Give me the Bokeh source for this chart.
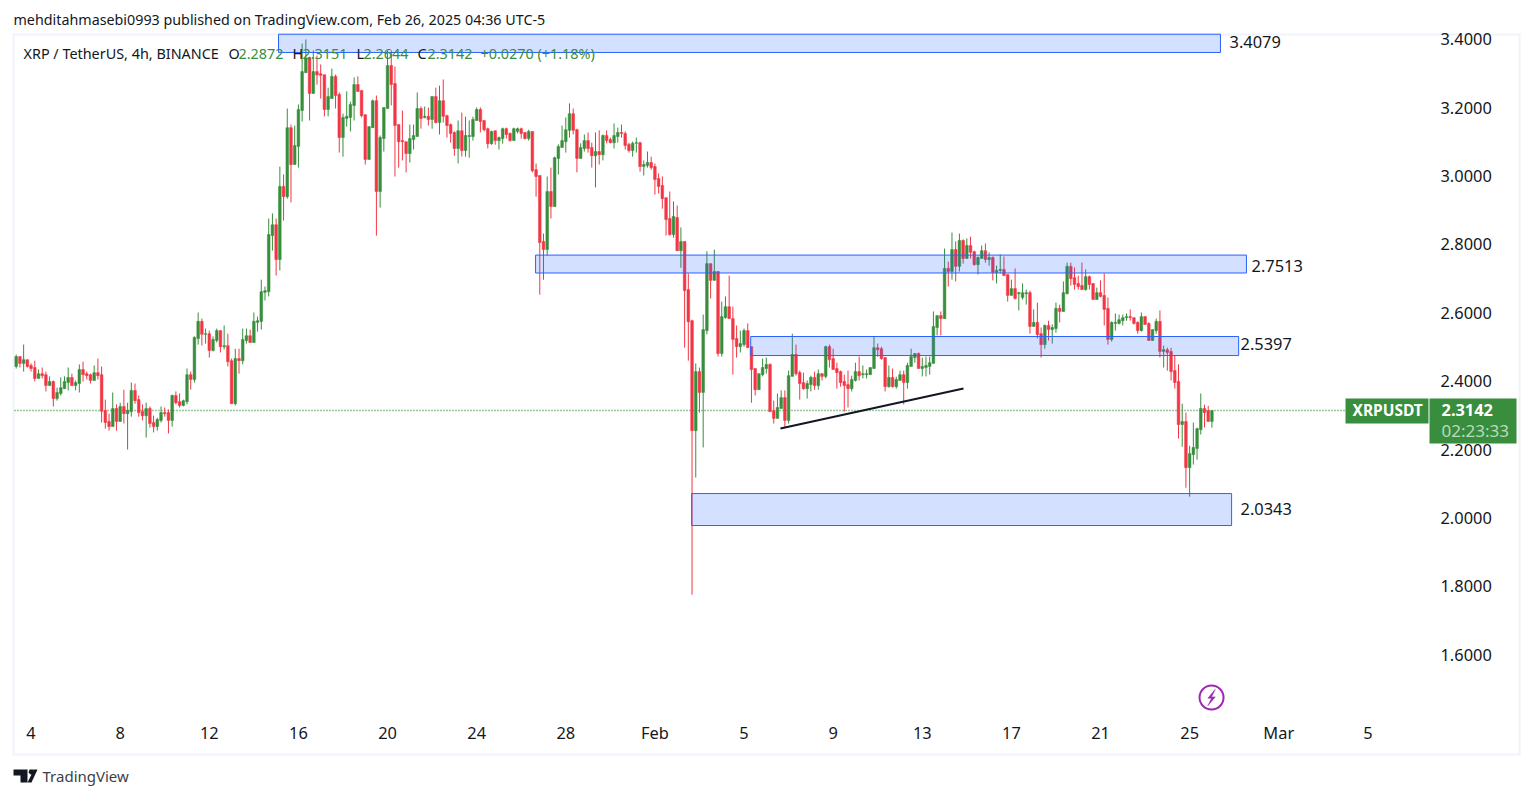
from bokeh.plotting import figure
from bokeh.embed import file_html
from bokeh.resources import INLINE
from bokeh.models import (ColumnDataSource, FixedTicker, NumeralTickFormatter, Label,
                          BoxAnnotation, PolyAnnotation, LinearAxis)

TICK_POS = [4, 28, 52, 76, 100, 124, 148, 172, 196, 220, 244, 268, 292, 316, 340, 364]
TICK_LABELS = ["4", "8", "12", "16", "20", "24", "28", "Feb", "5", "9", "13", "17", "21", "25", "Mar", "5"]
PRICE_TICKS = [1.6, 1.8, 2.0, 2.2, 2.4, 2.6, 2.8, 3.0, 3.2, 3.4]

DIRECTION = ("GRGRRRGRRG" "RGGGGRGGRR" "RGRRRRGRGR" "GGRRRGRRGG" "RRGRRGGRGG" "RGRGGRGRRG" "RGGRGGGGGG"
             "RGRGRGGGGR" "GRRRGGRRGG" "GGRRRGGRGG" "GRRRRRGGGR" "GRGRGRRRRG" "RGGGGRRRGR" "GGRRGGRRGR"
             "RRRGRGGGGG" "RRGGRRGRGR" "RGGRRRGGRG" "GRRRRRRGRG" "RRRGRGGRGR" "GGRRRGGRRR" "GGGRRGGRGG"
             "RRRGGRGRGR" "RRRRRGGRGG" "GGRRRGRGGR" "GGGRGGGGGR" "GRGRGRGRRG" "GRGRGGRRGR" "GGGRGRRGRG"
             "GRGGRRRRGR" "RGRRRGGGGG" "RRRGRRGGRG" "RRRRGRGGGG" "RRG")

highs = [
 2.478,2.472,2.507,2.463,2.452,2.460,2.434,2.440,2.428,2.414,
 2.402,2.381,2.411,2.414,2.440,2.422,2.402,2.449,2.457,2.428,
 2.422,2.446,2.466,2.443,2.346,2.305,2.367,2.332,2.337,2.375,
 2.337,2.396,2.393,2.358,2.332,2.337,2.326,2.299,2.293,2.326,
 2.323,2.317,2.361,2.370,2.364,2.346,2.437,2.428,2.531,2.601,
 2.583,2.554,2.548,2.531,2.554,2.548,2.563,2.539,2.466,2.495,
 2.495,2.554,2.554,2.551,2.601,2.589,2.697,2.677,2.876,2.891,
 2.876,3.028,3.005,3.198,3.151,3.148,3.210,3.388,3.400,3.350,
 3.368,3.353,3.327,3.297,3.259,3.315,3.297,3.245,3.183,3.248,
 3.218,3.289,3.292,3.251,3.180,3.145,3.224,3.236,3.119,3.201,
 3.368,3.368,3.321,3.151,3.192,3.101,3.151,3.151,3.245,3.204,
 3.204,3.201,3.233,3.259,3.265,3.283,3.180,3.154,3.131,3.163,
 3.186,3.174,3.163,3.174,3.201,3.201,3.163,3.142,3.133,3.133,
 3.116,3.142,3.142,3.128,3.142,3.142,3.142,3.128,3.136,3.131,
 3.037,3.002,2.832,2.999,3.025,3.057,3.093,3.148,3.172,3.213,
 3.198,3.139,3.096,3.122,3.128,3.098,3.128,3.134,3.122,3.134,
 3.113,3.154,3.142,3.151,3.131,3.098,3.101,3.113,3.101,3.046,
 3.072,3.057,3.037,3.008,2.999,2.937,2.955,2.926,2.914,2.850,
 2.809,2.715,2.580,2.452,2.440,2.595,2.780,2.744,2.785,2.721,
 2.633,2.648,2.709,2.618,2.563,2.548,2.554,2.569,2.501,2.437,
 2.422,2.466,2.469,2.452,2.343,2.364,2.373,2.373,2.431,2.539,
 2.507,2.431,2.425,2.402,2.416,2.428,2.434,2.422,2.504,2.507,
 2.495,2.454,2.431,2.419,2.431,2.416,2.454,2.472,2.446,2.434,
 2.440,2.531,2.510,2.501,2.469,2.446,2.437,2.413,2.431,2.431,
 2.454,2.495,2.481,2.484,2.469,2.472,2.472,2.604,2.592,2.604,
 2.788,2.750,2.835,2.809,2.832,2.815,2.818,2.823,2.782,2.765,
 2.797,2.803,2.777,2.765,2.738,2.771,2.765,2.712,2.697,2.730,
 2.662,2.686,2.668,2.665,2.610,2.630,2.557,2.566,2.577,2.566,
 2.630,2.624,2.692,2.747,2.747,2.733,2.709,2.747,2.727,2.709,
 2.686,2.674,2.695,2.715,2.645,2.575,2.598,2.595,2.595,2.598,
 2.610,2.586,2.575,2.601,2.589,2.572,2.551,2.583,2.607,2.504,
 2.498,2.498,2.475,2.449,2.334,2.308,2.211,2.279,2.264,2.364,
 2.331,2.328,2.314]

body_tops = [
 2.472,2.472,2.463,2.463,2.446,2.440,2.422,2.422,2.419,2.399,
 2.399,2.367,2.381,2.399,2.411,2.411,2.396,2.434,2.434,2.422,
 2.419,2.425,2.425,2.419,2.314,2.282,2.320,2.320,2.326,2.326,
 2.314,2.373,2.373,2.346,2.311,2.320,2.320,2.279,2.288,2.308,
 2.308,2.308,2.358,2.358,2.340,2.343,2.419,2.419,2.528,2.575,
 2.575,2.539,2.539,2.522,2.548,2.548,2.504,2.504,2.460,2.466,
 2.466,2.522,2.533,2.533,2.575,2.577,2.662,2.665,2.829,2.858,
 2.858,2.970,2.970,3.142,3.142,3.090,3.195,3.306,3.343,3.347,
 3.306,3.306,3.300,3.297,3.233,3.292,3.292,3.239,3.172,3.175,
 3.210,3.268,3.268,3.251,3.180,3.145,3.221,3.221,3.113,3.201,
 3.324,3.324,3.271,3.151,3.104,3.101,3.110,3.119,3.198,3.198,
 3.175,3.175,3.233,3.233,3.221,3.221,3.177,3.151,3.128,3.133,
 3.133,3.119,3.119,3.166,3.195,3.195,3.163,3.139,3.131,3.133,
 3.113,3.139,3.139,3.125,3.139,3.139,3.139,3.128,3.131,3.131,
 3.019,3.002,2.809,2.955,2.955,3.054,3.087,3.104,3.136,3.183,
 3.183,3.136,3.084,3.104,3.104,3.084,3.072,3.072,3.119,3.119,
 3.107,3.119,3.128,3.128,3.125,3.093,3.096,3.098,3.098,3.034,
 3.040,3.040,3.028,2.993,2.973,2.937,2.876,2.882,2.879,2.809,
 2.809,2.668,2.577,2.428,2.428,2.551,2.744,2.744,2.721,2.721,
 2.589,2.618,2.618,2.583,2.525,2.510,2.548,2.548,2.501,2.437,
 2.422,2.440,2.449,2.449,2.314,2.323,2.352,2.352,2.416,2.478,
 2.478,2.425,2.396,2.393,2.411,2.411,2.422,2.422,2.501,2.501,
 2.466,2.437,2.428,2.399,2.390,2.405,2.428,2.428,2.422,2.422,
 2.440,2.498,2.498,2.495,2.469,2.411,2.411,2.405,2.419,2.419,
 2.446,2.472,2.481,2.481,2.443,2.446,2.454,2.560,2.592,2.592,
 2.730,2.730,2.785,2.785,2.812,2.812,2.797,2.797,2.779,2.762,
 2.782,2.782,2.762,2.762,2.724,2.727,2.727,2.712,2.671,2.671,
 2.659,2.659,2.659,2.659,2.572,2.572,2.539,2.563,2.563,2.557,
 2.613,2.613,2.659,2.736,2.736,2.703,2.686,2.680,2.706,2.706,
 2.686,2.659,2.659,2.651,2.613,2.572,2.572,2.580,2.586,2.589,
 2.589,2.586,2.572,2.589,2.589,2.569,2.551,2.575,2.575,2.492,
 2.492,2.487,2.431,2.399,2.282,2.282,2.188,2.206,2.261,2.320,
 2.320,2.314,2.314]

body_bottoms = [
 2.443,2.452,2.452,2.443,2.437,2.408,2.408,2.416,2.387,2.387,
 2.349,2.349,2.364,2.378,2.396,2.387,2.387,2.393,2.419,2.416,
 2.402,2.402,2.416,2.312,2.279,2.267,2.267,2.282,2.282,2.305,
 2.305,2.311,2.343,2.308,2.299,2.299,2.276,2.267,2.267,2.285,
 2.305,2.285,2.285,2.337,2.329,2.329,2.340,2.405,2.405,2.525,
 2.537,2.537,2.490,2.490,2.519,2.501,2.501,2.457,2.334,2.334,
 2.460,2.460,2.519,2.513,2.513,2.572,2.575,2.660,2.662,2.826,
 2.756,2.756,2.940,2.940,3.034,3.034,3.087,3.192,3.303,3.242,
 3.242,3.296,3.295,3.195,3.195,3.227,3.236,3.113,3.113,3.169,
 3.172,3.207,3.248,3.177,3.049,3.049,3.142,2.955,2.955,3.110,
 3.198,3.268,3.148,3.101,3.101,3.066,3.066,3.107,3.116,3.169,
 3.172,3.166,3.166,3.157,3.157,3.175,3.148,3.125,3.081,3.081,
 3.075,3.075,3.116,3.116,3.163,3.160,3.136,3.095,3.095,3.104,
 3.104,3.110,3.122,3.104,3.104,3.131,3.125,3.110,3.110,3.016,
 2.999,2.806,2.785,2.785,2.911,2.911,3.052,3.084,3.101,3.134,
 3.134,3.052,3.052,3.081,3.081,3.060,3.060,3.063,3.063,3.104,
 3.098,3.098,3.116,3.125,3.090,3.075,3.075,3.096,3.028,3.028,
 3.031,3.025,2.990,2.970,2.934,2.873,2.829,2.829,2.782,2.782,
 2.665,2.574,2.255,2.255,2.367,2.367,2.548,2.695,2.695,2.481,
 2.481,2.586,2.583,2.522,2.501,2.501,2.507,2.498,2.434,2.375,
 2.375,2.419,2.437,2.311,2.291,2.291,2.320,2.285,2.285,2.414,
 2.422,2.393,2.378,2.378,2.390,2.387,2.387,2.414,2.414,2.463,
 2.434,2.425,2.396,2.387,2.378,2.378,2.402,2.416,2.419,2.419,
 2.419,2.437,2.492,2.466,2.384,2.384,2.384,2.384,2.402,2.396,
 2.396,2.443,2.469,2.437,2.437,2.440,2.443,2.452,2.557,2.583,
 2.583,2.721,2.721,2.736,2.736,2.759,2.759,2.777,2.741,2.741,
 2.759,2.756,2.756,2.718,2.718,2.724,2.709,2.651,2.651,2.642,
 2.656,2.645,2.656,2.560,2.560,2.536,2.507,2.507,2.551,2.551,
 2.554,2.604,2.604,2.656,2.700,2.683,2.677,2.668,2.668,2.683,
 2.639,2.639,2.648,2.610,2.522,2.522,2.569,2.569,2.577,2.586,
 2.586,2.569,2.548,2.548,2.566,2.519,2.519,2.548,2.487,2.487,
 2.484,2.428,2.396,2.273,2.273,2.147,2.147,2.185,2.203,2.258,
 2.308,2.282,2.282]

lows = [
 2.437,2.440,2.428,2.440,2.428,2.399,2.408,2.408,2.370,2.387,
 2.326,2.343,2.358,2.378,2.373,2.387,2.373,2.367,2.399,2.405,
 2.393,2.402,2.405,2.279,2.261,2.255,2.267,2.255,2.282,2.276,
 2.200,2.296,2.334,2.296,2.285,2.235,2.264,2.250,2.255,2.279,
 2.296,2.247,2.267,2.332,2.323,2.326,2.332,2.375,2.396,2.507,
 2.504,2.510,2.469,2.487,2.513,2.484,2.493,2.443,2.334,2.329,
 2.422,2.449,2.510,2.513,2.513,2.545,2.551,2.636,2.648,2.782,
 2.709,2.724,2.870,2.934,2.923,3.034,3.025,3.160,3.303,3.163,
 3.241,3.268,3.227,3.175,3.175,3.227,3.198,3.069,3.057,3.145,
 3.131,3.163,3.248,3.172,3.034,3.049,3.142,2.826,2.908,3.072,
 3.198,3.207,2.999,3.025,3.046,3.011,3.040,3.078,3.116,3.139,
 3.169,3.148,3.139,3.154,3.122,3.157,3.113,3.098,3.060,3.037,
 3.057,3.057,3.054,3.104,3.163,3.128,3.131,3.081,3.092,3.092,
 3.078,3.095,3.110,3.101,3.104,3.125,3.110,3.107,3.104,3.011,
 2.940,2.653,2.697,2.768,2.876,2.911,3.005,3.084,3.069,3.113,
 3.122,3.011,3.052,3.072,3.069,3.025,2.967,3.034,3.046,3.096,
 3.096,3.081,3.098,3.113,3.078,3.069,3.057,3.069,3.013,3.002,
 3.025,3.019,2.946,2.949,2.905,2.826,2.826,2.820,2.782,2.732,
 2.498,2.460,1.775,2.118,2.308,2.206,2.537,2.642,2.695,2.472,
 2.472,2.583,2.583,2.419,2.469,2.484,2.501,2.498,2.337,2.358,
 2.375,2.414,2.422,2.311,2.276,2.291,2.320,2.264,2.276,2.414,
 2.416,2.346,2.375,2.349,2.370,2.375,2.375,2.402,2.408,2.440,
 2.434,2.378,2.384,2.311,2.323,2.370,2.399,2.402,2.408,2.408,
 2.419,2.437,2.472,2.463,2.370,2.381,2.381,2.378,2.402,2.332,
 2.378,2.443,2.454,2.437,2.414,2.414,2.419,2.452,2.534,2.534,
 2.583,2.677,2.697,2.692,2.721,2.744,2.759,2.759,2.738,2.712,
 2.759,2.747,2.738,2.695,2.686,2.715,2.709,2.633,2.651,2.639,
 2.607,2.639,2.624,2.539,2.560,2.525,2.469,2.495,2.519,2.510,
 2.542,2.572,2.604,2.654,2.680,2.668,2.668,2.668,2.665,2.668,
 2.639,2.639,2.645,2.563,2.507,2.516,2.548,2.566,2.563,2.577,
 2.577,2.566,2.539,2.545,2.566,2.519,2.519,2.539,2.469,2.440,
 2.431,2.402,2.378,2.232,2.208,2.088,2.062,2.156,2.170,2.244,
 2.264,2.282,2.264]

index = list(range(len(highs)))
GREEN, RED, BLUE = "#388e3c", "#f23645", "#2962ff"
INK = "#131722"
FONT = "Noto Sans"
colors = [GREEN if d == "G" else RED for d in DIRECTION]
source = ColumnDataSource(dict(x=index, h=highs, l=lows, t=body_tops, b=body_bottoms, c=colors))

W, H = 1533, 798
p = figure(width=W, height=H, output_backend="svg", toolbar_location=None,
           x_range=(-4.228, 408.6), y_range=(1.1786, 3.5141),
           x_axis_location=None, y_axis_location=None,
           min_border_left=0, min_border_right=0, min_border_top=0, min_border_bottom=0)
p.outline_line_color = None
p.grid.visible = False
p.background_fill_color = "#ffffff"

yax = LinearAxis(ticker=FixedTicker(ticks=PRICE_TICKS), formatter=NumeralTickFormatter(format="0.0000"),
                 fixed_location=381.4)
xax = LinearAxis(ticker=FixedTicker(ticks=TICK_POS), major_label_overrides=dict(zip(TICK_POS, TICK_LABELS)),
                 fixed_location=1.442)
for ax in (yax, xax):
    ax.axis_line_color = None
    ax.major_tick_line_color = None
    ax.minor_tick_line_color = None
    ax.major_label_text_font = FONT
    ax.major_label_text_font_size = "16.4px"
    ax.major_label_text_color = INK
yax.major_label_standoff = 2
xax.major_label_standoff = 6
p.add_layout(yax, "right")
p.add_layout(xax, "below")

# dotted last price line
p.segment([-0.46], [2.3142], [358], [2.3142], line_color=GREEN, line_dash="1 2", line_width=1.5)

# candles
p.segment("x", "h", "x", "l", source=source, color="c", line_width=1)
p.vbar(x="x", top="t", bottom="b", width=0.72, source=source, fill_color="c", line_color="c", line_width=0.5)

# zones drawn over the candles
ZONES = [(70.64, 324.3, 3.362, 3.4155, "3.4079", 1229, 42),
         (139.86, 331.3, 2.7166, 2.769, "2.7513", 1251, 266),
         (197.8, 329.2, 2.475, 2.5307, "2.5397", 1240, 344),
         (181.9, 327.3, 1.9775, 2.0711, "2.0343", 1240, 509)]
for x0, x1, y0, y1, *_ in ZONES:
    p.quad(left=[x0], right=[x1], bottom=[y0], top=[y1], fill_color=BLUE, fill_alpha=0.2,
           line_color=BLUE, line_width=1)

# trend line
p.line([205.8, 255.1], [2.2615, 2.3786], line_color=INK, line_width=2.2)

# lightning icon
p.scatter([321.9], [1.474], marker="circle", size=24, fill_color=None, line_color="#9c27b0", line_width=2)
p.patch([322.9, 320.9, 321.9, 320.9, 322.9, 321.9],
        [1.498, 1.472, 1.472, 1.450, 1.476, 1.476], fill_color="#9c27b0", line_color="#9c27b0", line_width=0.5)


def text(t, x, y, size="14.4px", color=INK, weight="normal"):
    p.add_layout(Label(x=x, y=y - 0.7, x_units="canvas", y_units="canvas", text=t, text_font=FONT,
                       text_font_size=size, text_color=color, text_font_style=weight,
                       text_baseline="middle"))


def box(x0, x1, y0, y1, color, level="annotation"):
    p.add_layout(BoxAnnotation(left=x0, right=x1, top=y0, bottom=y1,
                               left_units="canvas", right_units="canvas", top_units="canvas", bottom_units="canvas",
                               fill_color=color, fill_alpha=1.0, line_color=None, level=level))


def poly(pts, color=INK):
    p.add_layout(PolyAnnotation(xs=[a for a, _ in pts], ys=[b for _, b in pts],
                                xs_units="canvas", ys_units="canvas", fill_color=color, fill_alpha=1.0,
                                line_color=None))


# chart border
BORDER = "#f0f3fa"
box(12, 14, 33, 755, BORDER, "underlay")
box(12, 1520, 33, 35, BORDER, "underlay")
box(12, 1520, 753, 755, BORDER, "underlay")
box(1518, 1520, 33, 755, BORDER, "underlay")

# header
text("mehditahmasebi0993 published on TradingView.com, Feb 26, 2025 04:36 UTC-5", 13, 20, size="14.3px")
text("XRP / TetherUS, 4h, BINANCE", 23, 54)
LEGEND = [("O", INK, 228), ("2.2872", GREEN, 238), ("H", INK, 292), ("2.3151", GREEN, 302),
          ("L", INK, 356), ("2.2644", GREEN, 363), ("C", INK, 417), ("2.3142", GREEN, 427),
          ("+0.0270 (+1.18%)", GREEN, 480)]
for t, c, x in LEGEND:
    text(t, x, 54, color=c)

# zone labels
for *_, t, x, y in ZONES:
    text(t, x, y, size="16.4px")

# price tags
box(1345, 1428, 398, 423, GREEN)
box(1429, 1516, 398, 443, GREEN)
text("XRPUSDT", 1352, 410.5, size="15.5px", color="#ffffff", weight="bold")
text("2.3142", 1441, 410.5, size="16.4px", color="#ffffff", weight="bold")
text("02:23:33", 1441, 431, size="17px", color="#bcd9be")

# footer logo
poly([(13, 769), (27, 769), (27, 782), (20, 782), (20, 775), (13, 775)])
poly([(29, 769), (33, 769), (34, 772), (33, 774), (30, 774), (28, 772)])
poly([(31, 782), (37, 769), (33.5, 769), (27, 782)])
text("TradingView", 42, 776.5, size="15px", color="#3b3f4a")

open("out.html", "w").write(file_html(p, INLINE))
